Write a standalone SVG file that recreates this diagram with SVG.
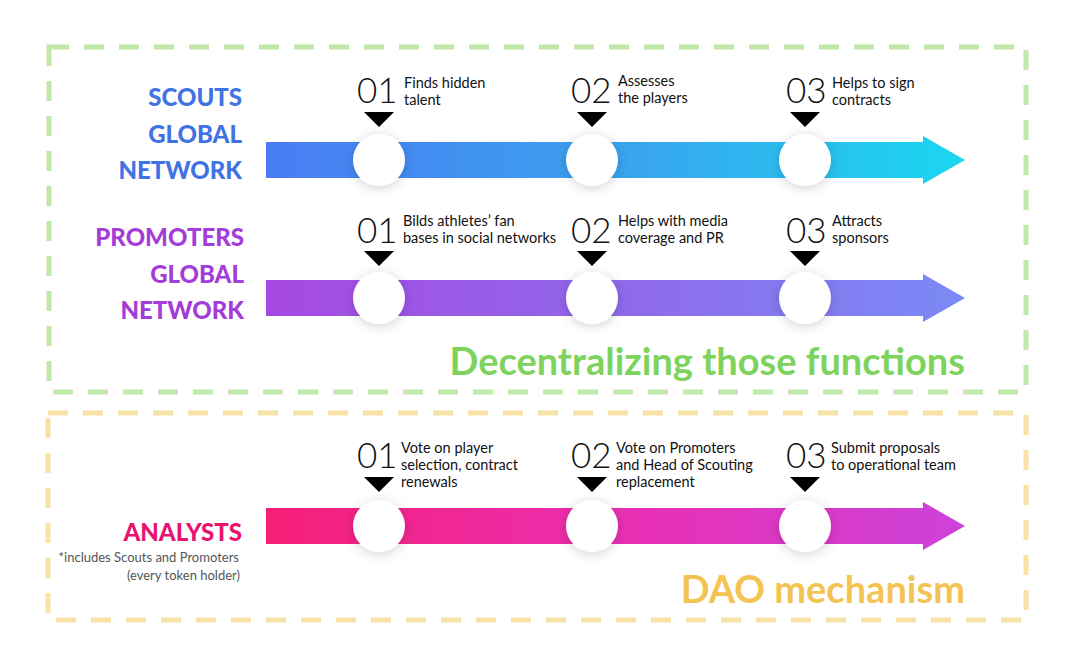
<svg xmlns="http://www.w3.org/2000/svg" width="1078" height="670" viewBox="0 0 1078 670">
<defs>
<linearGradient id="gScouts" x1="0" x2="1" y1="0" y2="0"><stop offset="0" stop-color="#4a7cf3"/><stop offset="0.5" stop-color="#3aa2ef"/><stop offset="1" stop-color="#1bd7f0"/></linearGradient>
<linearGradient id="gProm" x1="0" x2="1" y1="0" y2="0"><stop offset="0" stop-color="#a648e2"/><stop offset="1" stop-color="#7a8af5"/></linearGradient>
<linearGradient id="gAnal" x1="0" x2="1" y1="0" y2="0"><stop offset="0" stop-color="#f71f78"/><stop offset="0.5" stop-color="#e92fb2"/><stop offset="1" stop-color="#cd42da"/></linearGradient>
<filter id="sh" x="-60%" y="-60%" width="220%" height="220%"><feDropShadow dx="0" dy="2" stdDeviation="6" flood-color="#000" flood-opacity="0.18"/></filter>
<polygon id="tri" points="-15,0 15,0 0,15" fill="#000"/>
</defs>
<style>
.num{font-family:Lato,"Noto Sans",sans-serif;font-weight:300;font-size:35px;fill:#111}
.desc{font-family:Lato,"Noto Sans",sans-serif;font-size:14.5px;fill:#111}
.lbl{font-family:Lato,"Noto Sans",sans-serif;font-weight:900;font-size:24px;text-anchor:end}
.note{font-family:Lato,"Noto Sans",sans-serif;font-size:13px;fill:#555;text-anchor:end}
.big{font-family:Lato,"Noto Sans",sans-serif;font-weight:700;font-size:38px;text-anchor:end}
.dot{fill:#fff;filter:url(#sh)}
</style>
<rect width="1078" height="670" fill="#fff"/>
<rect x="49" y="47" width="977" height="345" fill="none" stroke="#bfe8a9" stroke-width="5" stroke-dasharray="20 15"/>
<rect x="48" y="413" width="978" height="207" fill="none" stroke="#f8e2a6" stroke-width="5" stroke-dasharray="20 15"/>

<g id="connectors">
<polygon points="266,142 923,142 923,136 965,160 923,184 923,178 266,178" fill="url(#gScouts)"/>
<polygon points="266,280 923,280 923,274 965,298 923,322 923,316 266,316" fill="url(#gProm)"/>
<polygon points="266,508 923,508 923,502 965,526 923,550 923,544 266,544" fill="url(#gAnal)"/>
</g>

<g id="scouts-label">
<text class="lbl" fill="#3f72e4" x="242" y="106">SCOUTS</text>
<text class="lbl" fill="#3f72e4" x="242" y="143">GLOBAL</text>
<text class="lbl" fill="#3f72e4" x="242" y="179">NETWORK</text>
</g>
<g id="scouts-1"><circle class="dot" cx="379" cy="160" r="26"/><use href="#tri" x="379" y="112"/><text class="num" x="357" y="103">01</text><text class="desc" x="404" y="88">Finds hidden</text><text class="desc" x="404" y="105">talent</text></g>
<g id="scouts-2"><circle class="dot" cx="592" cy="160" r="26"/><use href="#tri" x="592" y="112"/><text class="num" x="571" y="103">02</text><text class="desc" x="618" y="86">Assesses</text><text class="desc" x="618" y="103">the players</text></g>
<g id="scouts-3"><circle class="dot" cx="805" cy="160" r="26"/><use href="#tri" x="805" y="112"/><text class="num" x="786" y="103">03</text><text class="desc" x="832" y="88">Helps to sign</text><text class="desc" x="832" y="105">contracts</text></g>

<g id="promoters-label">
<text class="lbl" fill="#a43cd9" x="244" y="246">PROMOTERS</text>
<text class="lbl" fill="#a43cd9" x="244" y="283">GLOBAL</text>
<text class="lbl" fill="#a43cd9" x="244" y="319">NETWORK</text>
</g>
<g id="promoters-1"><circle class="dot" cx="379" cy="298" r="26"/><use href="#tri" x="379" y="251"/><text class="num" x="357" y="243">01</text><text class="desc" x="403" y="226">Bilds athletes’ fan</text><text class="desc" x="403" y="243">bases in social networks</text></g>
<g id="promoters-2"><circle class="dot" cx="592" cy="298" r="26"/><use href="#tri" x="592" y="251"/><text class="num" x="571" y="243">02</text><text class="desc" x="618" y="226">Helps with media</text><text class="desc" x="618" y="243">coverage and PR</text></g>
<g id="promoters-3"><circle class="dot" cx="805" cy="298" r="26"/><use href="#tri" x="805" y="251"/><text class="num" x="786" y="243">03</text><text class="desc" x="832" y="226">Attracts</text><text class="desc" x="832" y="243">sponsors</text></g>

<text class="big" fill="#7dd35b" x="965" y="375">Decentralizing those functions</text>

<g id="analysts-label">
<text class="lbl" fill="#e8136f" x="242" y="541">ANALYSTS</text>
<text class="note" x="239" y="562">*includes Scouts and Promoters</text>
<text class="note" x="240" y="580">(every token holder)</text>
</g>
<g id="analysts-1"><circle class="dot" cx="379" cy="526" r="26"/><use href="#tri" x="379" y="477"/><text class="num" x="357" y="468">01</text><text class="desc" x="401" y="453">Vote on player</text><text class="desc" x="401" y="470">selection, contract</text><text class="desc" x="401" y="487">renewals</text></g>
<g id="analysts-2"><circle class="dot" cx="592" cy="526" r="26"/><use href="#tri" x="592" y="477"/><text class="num" x="571" y="468">02</text><text class="desc" x="616" y="453">Vote on Promoters</text><text class="desc" x="616" y="470">and Head of Scouting</text><text class="desc" x="616" y="487">replacement</text></g>
<g id="analysts-3"><circle class="dot" cx="805" cy="526" r="26"/><use href="#tri" x="805" y="477"/><text class="num" x="786" y="468">03</text><text class="desc" x="831" y="453">Submit proposals</text><text class="desc" x="831" y="470">to operational team</text></g>

<text class="big" fill="#f4c453" x="965" y="603">DAO mechanism</text>
</svg>
